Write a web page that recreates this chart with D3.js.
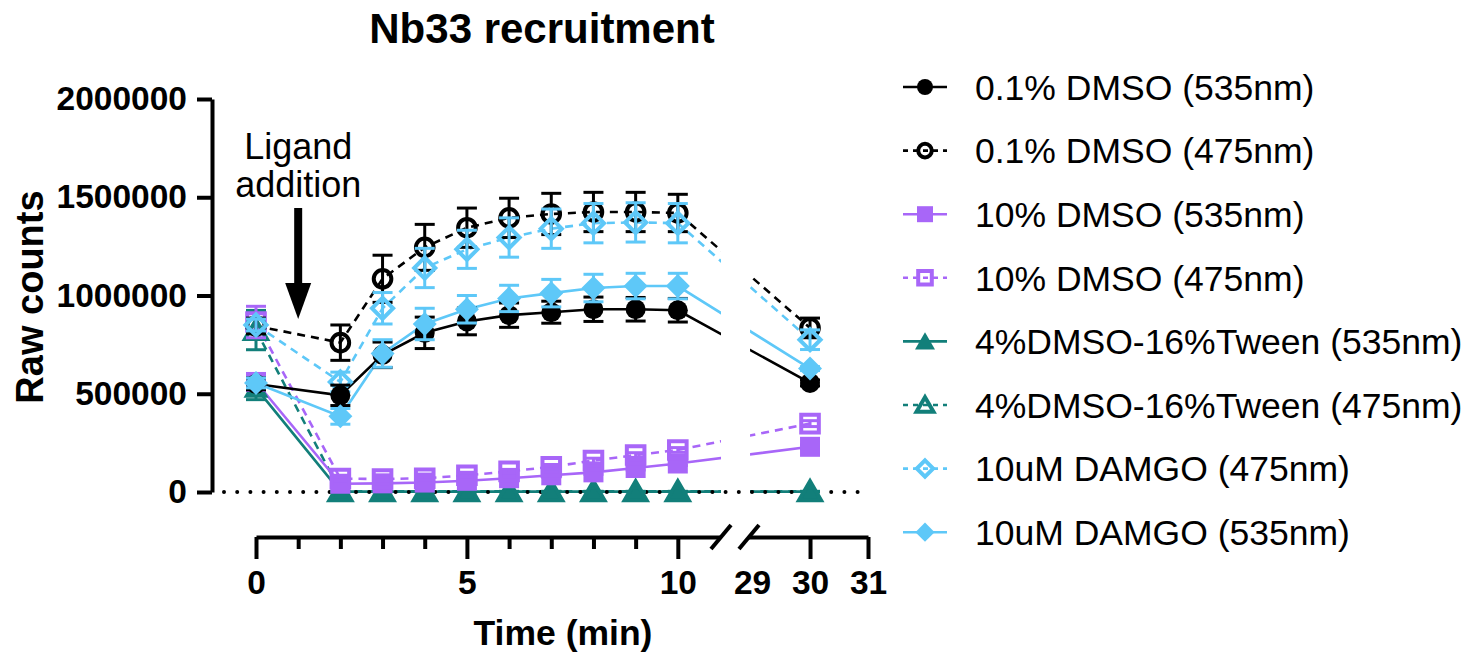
<!DOCTYPE html>
<html>
<head>
<meta charset="utf-8">
<script src="https://cdn.jsdelivr.net/npm/d3@7"></script>
<style>
  html, body { margin: 0; padding: 0; background: #fff; }
  svg { display: block; font-family: "Liberation Sans", Arial, sans-serif; }
</style>
</head>
<body>
<svg id="chart" width="1483" height="652"></svg>
<script>
// Sampling times (min)
const times = [0, 2, 3, 4, 5, 6, 7, 8, 9, 10, 30];

// Mean raw counts and SD per condition
const dmso01_535 = [550000, 492000, 698000, 810000, 868000, 900000, 915000, 930000, 930000, 925000, 555000];
const dmso01_535_sd = [30000, 52000, 65000, 80000, 68000, 62000, 56000, 62000, 60000, 60000, 15000];
const dmso01_475 = [845000, 760000, 1085000, 1245000, 1345000, 1395000, 1415000, 1425000, 1425000, 1420000, 835000];
const dmso01_475_sd = [40000, 90000, 120000, 117000, 100000, 100000, 105000, 100000, 100000, 95000, 50000];
const dmso10_535 = [560000, 42000, 44000, 48000, 57000, 70000, 85000, 100000, 122000, 145000, 230000];
const dmso10_535_sd = [40000, 8000, 8000, 8000, 8000, 9000, 10000, 10000, 10000, 10000, 10000];
const dmso10_475 = [865000, 68000, 66000, 70000, 85000, 105000, 128000, 160000, 188000, 214000, 348000];
const dmso10_475_sd = [80000, 10000, 10000, 10000, 10000, 10000, 12000, 12000, 12000, 12000, 15000];
const tween_535 = [530000, 2000, 2000, 2000, 2000, 2000, 2000, 2000, 2000, 2000, 2000];
const tween_535_sd = [60000, 500, 500, 500, 500, 500, 500, 500, 500, 500, 500];
const tween_475 = [824000, 3000, 3000, 3000, 3000, 3000, 3000, 3000, 3000, 3000, 3000];
const tween_475_sd = [100000, 500, 500, 500, 500, 500, 500, 500, 500, 500, 500];
const damgo_475 = [850000, 560000, 935000, 1140000, 1235000, 1295000, 1340000, 1368000, 1372000, 1368000, 775000];
const damgo_475_sd = [30000, 50000, 80000, 100000, 97000, 100000, 100000, 100000, 100000, 100000, 50000];
const damgo_535 = [555000, 385000, 705000, 855000, 930000, 985000, 1012000, 1038000, 1048000, 1048000, 628000];
const damgo_535_sd = [25000, 40000, 70000, 80000, 70000, 67000, 70000, 70000, 65000, 65000, 10000];

// Legend labels (legend order)
const legendLabels = [
  "0.1% DMSO (535nm)", "0.1% DMSO (475nm)", "10% DMSO (535nm)", "10% DMSO (475nm)",
  "4%DMSO-16%Tween (535nm)", "4%DMSO-16%Tween (475nm)", "10uM DAMGO (475nm)", "10uM DAMGO (535nm)"
];
const yTicks = [0, 500000, 1000000, 1500000, 2000000];
const xMajorTicks = [0, 5, 10];
const xMinorTicks = [1, 2, 3, 4, 6, 7, 8, 9];
const xTicksAfterBreak = [29, 30, 31];

const BLACK = "#000000", PURPLE = "#A866F8", TEAL = "#127F7A", BLUE = "#5EC8F8";
const FONT = "Liberation Sans, Arial, sans-serif";

// Series definitions: colour, marker shape, filled or open, dashed or solid
const series = [
  { label: legendLabels[0], values: dmso01_535, sd: dmso01_535_sd, color: BLACK, shape: "circle", filled: true, dashed: false },
  { label: legendLabels[1], values: dmso01_475, sd: dmso01_475_sd, color: BLACK, shape: "circle", filled: false, dashed: true },
  { label: legendLabels[2], values: dmso10_535, sd: dmso10_535_sd, color: PURPLE, shape: "square", filled: true, dashed: false },
  { label: legendLabels[3], values: dmso10_475, sd: dmso10_475_sd, color: PURPLE, shape: "square", filled: false, dashed: true },
  { label: legendLabels[4], values: tween_535, sd: tween_535_sd, color: TEAL, shape: "triangle", filled: true, dashed: false },
  { label: legendLabels[5], values: tween_475, sd: tween_475_sd, color: TEAL, shape: "triangle", filled: false, dashed: true },
  { label: legendLabels[6], values: damgo_475, sd: damgo_475_sd, color: BLUE, shape: "diamond", filled: false, dashed: true },
  { label: legendLabels[7], values: damgo_535, sd: damgo_535_sd, color: BLUE, shape: "diamond", filled: true, dashed: false }
];
// Stacking order of the marks
const drawOrder = [4, 5, 2, 3, 1, 6, 0, 7];

const svg = d3.select("#chart");

// Broken x axis: 0-11 min, then 29-31 min
const x1 = d3.scaleLinear().domain([0, 11]).range([256, 720]);
const x2 = d3.scaleLinear().domain([28.93, 31]).range([748, 868]);
const xPos = t => (t <= 11 ? x1(t) : x2(t));
const y = d3.scaleLinear().domain([0, 2000000]).range([492, 99]);

// Marker path generators centred on (0,0)
function shapePath(shape, s) {
  const p = d3.path();
  if (shape === "circle") {
    p.moveTo(s, 0); p.arc(0, 0, s, 0, 2 * Math.PI);
  } else if (shape === "square") {
    p.rect(-s, -s, 2 * s, 2 * s);
  } else if (shape === "triangle") {
    p.moveTo(0, -s * 1.15); p.lineTo(s * 1.25, s * 1.0); p.lineTo(-s * 1.25, s * 1.0); p.closePath();
  } else if (shape === "diamond") {
    p.moveTo(0, -s * 1.2); p.lineTo(s * 1.2, 0); p.lineTo(0, s * 1.2); p.lineTo(-s * 1.2, 0); p.closePath();
  }
  return p.toString();
}

function drawMarker(g, sr, cx, cy, size) {
  const filled = sr.filled;
  const s = filled ? size : size - 1.2;
  g.append("path")
    .attr("d", shapePath(sr.shape, s))
    .attr("transform", `translate(${cx},${cy})`)
    .attr("fill", filled ? sr.color : "none")
    .attr("stroke", sr.color)
    .attr("stroke-width", filled ? 0 : 4);
}

// Clip regions leaving the gap of the axis break
const defs = svg.append("defs");
const clip = defs.append("clipPath").attr("id", "breakClip");
clip.append("rect").attr("x", 0).attr("y", 0).attr("width", x1(11) + 1).attr("height", 652);
clip.append("rect").attr("x", x2(29) - 2).attr("y", 0).attr("width", 1483).attr("height", 652);

const plot = svg.append("g");
const lineGen = d3.line().x((d, i) => xPos(times[i])).y(d => y(d));

// Connecting lines
drawOrder.forEach(k => {
  const sr = series[k];
  plot.append("path")
    .datum(sr.values)
    .attr("d", lineGen)
    .attr("clip-path", "url(#breakClip)")
    .attr("fill", "none")
    .attr("stroke", sr.color)
    .attr("stroke-width", 2.6)
    .attr("stroke-dasharray", sr.dashed ? "8,6" : null);
});

// Dotted zero line
svg.append("line")
  .attr("x1", 224).attr("x2", 858)
  .attr("y1", y(0)).attr("y2", y(0))
  .attr("stroke", BLACK)
  .attr("stroke-width", 4)
  .attr("stroke-linecap", "round")
  .attr("stroke-dasharray", "0,13.2");

// Error bars and markers
drawOrder.forEach(k => {
  const sr = series[k];
  const g = svg.append("g");
  sr.values.forEach((v, i) => {
    const cx = xPos(times[i]);
    const hi = y(v + sr.sd[i]), lo = y(v - sr.sd[i]);
    const cap = 10;
    g.append("line").attr("x1", cx).attr("x2", cx).attr("y1", hi).attr("y2", lo)
      .attr("stroke", sr.color).attr("stroke-width", 3);
    [hi, lo].forEach(yy => g.append("line")
      .attr("x1", cx - cap).attr("x2", cx + cap).attr("y1", yy).attr("y2", yy)
      .attr("stroke", sr.color).attr("stroke-width", 3));
    drawMarker(g, sr, cx, y(v), 10);
  });
});

// Y axis
const yAxis = svg.append("g")
  .attr("transform", "translate(212,0)")
  .call(d3.axisLeft(y).tickValues(yTicks).tickFormat(d3.format("d")).tickSize(15).tickSizeOuter(0).tickPadding(10));
yAxis.select(".domain").attr("stroke-width", 4);
yAxis.selectAll(".tick line").attr("stroke-width", 4);
yAxis.selectAll(".tick text").attr("font-size", 33.5).attr("font-weight", "bold")
  .attr("font-family", FONT).attr("fill", BLACK);

// X axis, first segment
const axisY = 537;
const xa1 = svg.append("g").attr("transform", `translate(0,${axisY})`)
  .call(d3.axisBottom(x1).tickValues(xMajorTicks).tickFormat(d3.format("d")).tickSize(22).tickSizeOuter(0).tickPadding(11));
const xa1m = svg.append("g").attr("transform", `translate(0,${axisY})`)
  .call(d3.axisBottom(x1).tickValues(xMinorTicks).tickSize(12).tickSizeOuter(0).tickFormat(""));
xa1m.select(".domain").remove();
// X axis, second segment
const xa2 = svg.append("g").attr("transform", `translate(0,${axisY})`)
  .call(d3.axisBottom(x2).tickValues(xTicksAfterBreak).tickFormat(d3.format("d")).tickSize(22).tickSizeOuter(0).tickPadding(11));
xa2.selectAll(".tick").filter(d => d === 29).select("line").remove();

[xa1, xa1m, xa2].forEach(a => {
  a.select(".domain").attr("stroke-width", 4);
  a.selectAll(".tick line").attr("stroke-width", 4);
  a.selectAll(".tick text").attr("font-size", 33.5).attr("font-weight", "bold")
    .attr("font-family", FONT).attr("fill", BLACK);
});

// Break marks
[x1(11) + 1, x2(28.93) + 1].forEach(bx => {
  svg.append("line")
    .attr("x1", bx - 10).attr("y1", axisY + 12)
    .attr("x2", bx + 10).attr("y2", axisY - 12)
    .attr("stroke", BLACK).attr("stroke-width", 4);
});

// Titles
svg.append("text").attr("x", 542).attr("y", 43).attr("text-anchor", "middle")
  .attr("font-size", 42).attr("font-weight", "bold").text("Nb33 recruitment");
svg.append("text").attr("x", 563).attr("y", 645).attr("text-anchor", "middle")
  .attr("font-size", 35.5).attr("font-weight", "bold").text("Time (min)");
svg.append("text").attr("transform", "translate(43,297) rotate(-90)").attr("text-anchor", "middle")
  .attr("font-size", 38).attr("font-weight", "bold").text("Raw counts");

// Ligand addition annotation
const ax = x1(1);
svg.append("text").attr("x", ax).attr("y", 159).attr("text-anchor", "middle")
  .attr("font-size", 36).text("Ligand");
svg.append("text").attr("x", ax).attr("y", 197).attr("text-anchor", "middle")
  .attr("font-size", 36).text("addition");
svg.append("line").attr("x1", ax).attr("x2", ax).attr("y1", 208).attr("y2", 286)
  .attr("stroke", BLACK).attr("stroke-width", 8);
svg.append("path")
  .attr("d", `M${ax - 13},283 L${ax + 13},283 L${ax},319 Z`)
  .attr("fill", BLACK);

// Legend
const legend = svg.append("g");
series.forEach((sr, i) => {
  const ly = 87 + i * 63.6;
  const g = legend.append("g");
  g.append("line").attr("x1", 903).attr("x2", 947).attr("y1", ly).attr("y2", ly)
    .attr("stroke", sr.color).attr("stroke-width", 2.6)
    .attr("stroke-dasharray", sr.dashed ? "5,5" : null);
  drawMarker(g, sr, 925, ly, 8);
  g.append("text").attr("x", 975).attr("y", ly).attr("dy", "0.36em")
    .attr("font-size", 35.5).attr("fill", BLACK).text(sr.label);
});
</script>
</body>
</html>
